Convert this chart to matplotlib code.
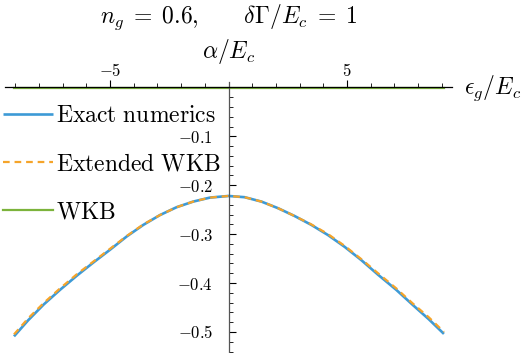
import matplotlib
matplotlib.use("Agg")
import matplotlib.pyplot as plt
from matplotlib.ticker import MultipleLocator, FixedLocator

plt.rcParams["mathtext.fontset"] = "cm"
plt.rcParams["font.family"] = "serif"
plt.rcParams["font.serif"] = ["DejaVu Serif"]

# values
eps = [-9.05, -8.45, -7.80, -7.11, -6.40, -5.70, -5.00, -4.30, -3.59, -2.89,
       -2.19, -1.49, -0.78, 0.0, 0.68, 1.39, 2.09, 2.79, 3.49, 4.20,
       4.90, 5.60, 6.31, 7.08, 7.78, 8.45, 9.09]
exact = [-0.509, -0.476, -0.444, -0.414, -0.385, -0.358, -0.332, -0.305, -0.281, -0.261,
         -0.245, -0.2335, -0.2253, -0.222, -0.2245, -0.2335, -0.247, -0.263, -0.281, -0.302,
         -0.326, -0.353, -0.383, -0.414, -0.445, -0.474, -0.504]
ext_wkb = [-0.505, -0.472, -0.441, -0.411, -0.382, -0.356, -0.330, -0.304, -0.280, -0.261,
           -0.245, -0.2335, -0.2253, -0.222, -0.2245, -0.2335, -0.247, -0.263, -0.280, -0.300,
           -0.324, -0.351, -0.380, -0.411, -0.442, -0.470, -0.500]
wkb_eps = [-9.05, 0.0, 9.09]
wkb = [-0.002, -0.002, -0.002]

x_major = [-5, 5]
x_labels = [r"$-5$", r"$5$"]
y_major = [-0.1, -0.2, -0.3, -0.4, -0.5]
y_labels = [r"$-0.1$", r"$-0.2$", r"$-0.3$", r"$-0.4$", r"$-0.5$"]

W, H = 525, 353
fig = plt.figure(figsize=(W / 100, H / 100), dpi=100)
ax = fig.add_axes([5 / W, 1 / H, 447 / W, 270 / H])

l1, = ax.plot(eps, exact, color="#3d9ad6", lw=1.9, solid_capstyle="butt")
l2, = ax.plot(eps, ext_wkb, color="#f5a42a", lw=1.6, dashes=(3, 2.2))
l3, = ax.plot(wkb_eps, wkb, color="#7cb33b", lw=1.6, zorder=1)

ax.set_xlim(-9.43, 9.43)
ax.set_ylim(-0.541, 0.011)

for s in ["right", "bottom"]:
    ax.spines[s].set_visible(False)
ax.spines["top"].set_position(("data", 0))
ax.spines["left"].set_position(("data", 0))
ax.spines["top"].set_linewidth(0.9)
ax.spines["left"].set_linewidth(0.9)
ax.spines["left"].set_color("#555555")

ax.xaxis.set_ticks_position("top")
ax.xaxis.set_major_locator(FixedLocator(x_major))
ax.xaxis.set_minor_locator(MultipleLocator(1))
ax.set_xticklabels(x_labels)
ax.tick_params(axis="x", which="major", direction="out", length=5, width=0.8,
               labelsize=12, pad=0)
ax.tick_params(axis="x", which="minor", direction="out", length=3, width=0.6)

ax.yaxis.set_ticks_position("left")
ax.yaxis.set_major_locator(FixedLocator(y_major))
ax.yaxis.set_minor_locator(MultipleLocator(0.02))
ax.set_yticklabels(y_labels)
ax.tick_params(axis="y", which="major", direction="in", length=5, width=0.8,
               labelsize=12, pad=11)
ax.tick_params(axis="y", which="minor", direction="in", length=3, width=0.6)
ax.patch.set_visible(False)

fig.text(228.5 / W, 1 - 17 / H, r"$n_g\;=\;0.6,\qquad\delta\Gamma/E_c\;=\;1$",
         ha="center", va="center", fontsize=17)
fig.text(228.5 / W, 1 - 52 / H, r"$\alpha/E_c$", ha="center", va="center", fontsize=17)
fig.text(464 / W, 1 - 88 / H, r"$\epsilon_g/E_c$", ha="left", va="center", fontsize=17)

fig.legend([l1, l2, l3],
           [r"$\mathrm{Exact\ numerics}$", r"$\mathrm{Extended\ WKB}$", r"$\mathrm{WKB}$"],
           loc="upper left", bbox_to_anchor=(3 / W, 1 - 104 / H), frameon=False,
           fontsize=17, handlelength=2.1, handletextpad=0.15, labelspacing=1.06,
           borderpad=0, borderaxespad=0)

fig.savefig("out.png", dpi=100)
